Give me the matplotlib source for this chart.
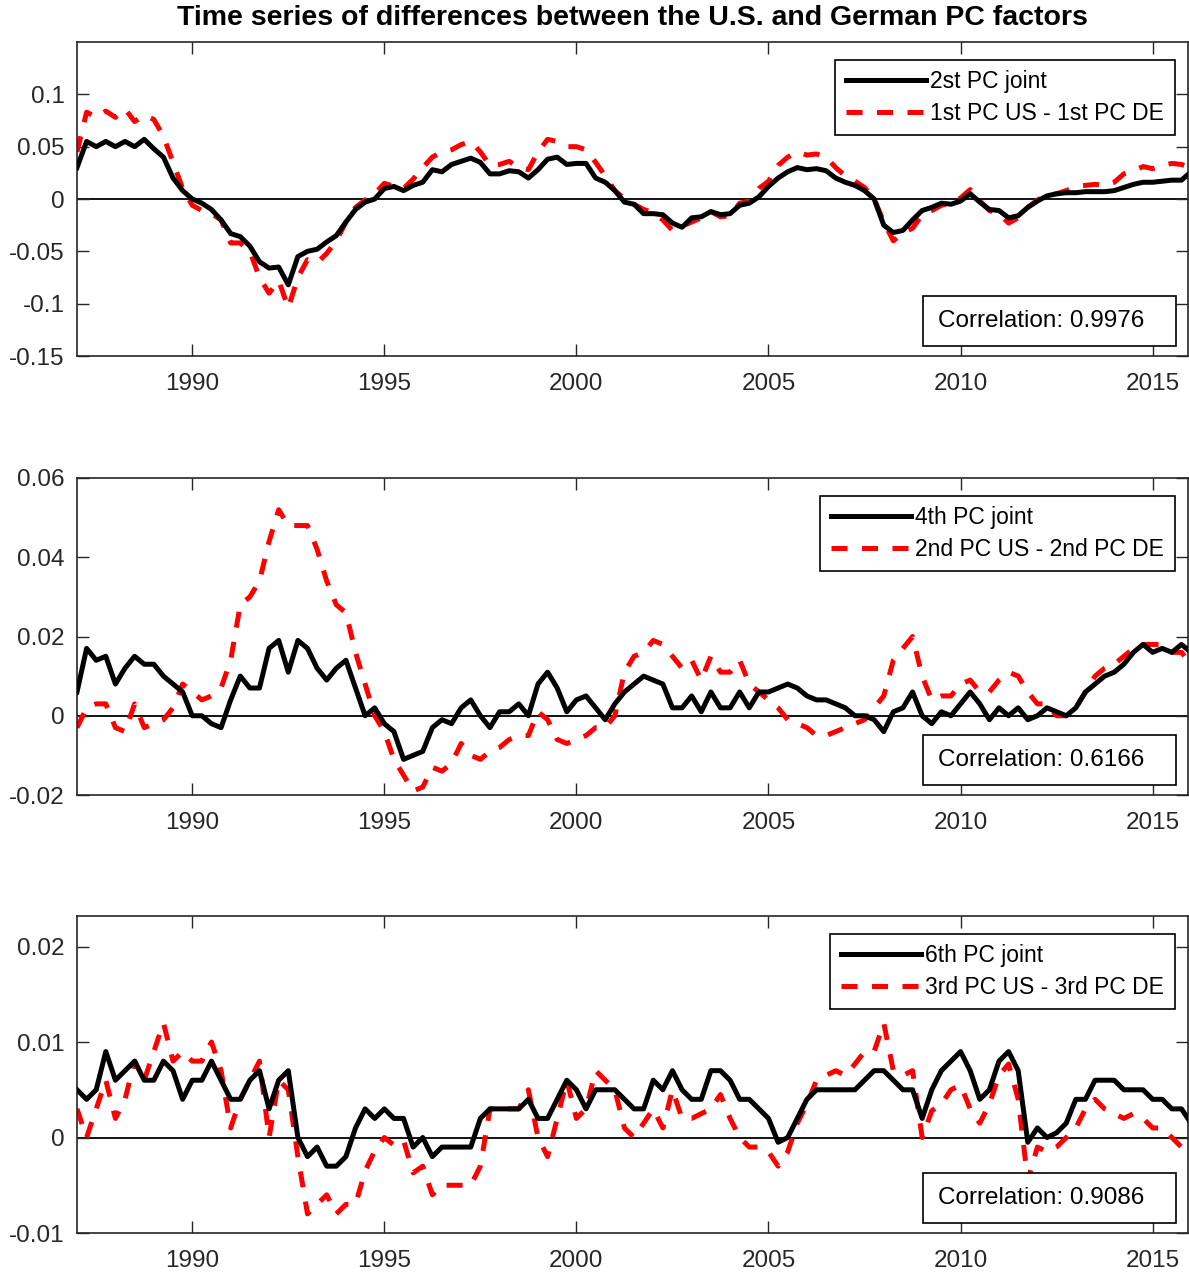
import numpy as np
import matplotlib
matplotlib.use("Agg")
import matplotlib.pyplot as plt
from matplotlib.patches import Rectangle
from matplotlib.ticker import FuncFormatter

plt.rcParams['font.family'] = ['Liberation Sans', 'DejaVu Sans']

# quarterly observations, 1987Q1 ... 2016Q1
start_year = 1987.0
step = 0.25

# panel 1: 2nd joint PC vs 1st PC US - 1st PC DE
joint2 = [
    0.030, 0.055, 0.050, 0.055,     # 1987
    0.050, 0.055, 0.050, 0.057,     # 1988
    0.048, 0.040, 0.020, 0.008,     # 1989
    0.000, -0.004, -0.010, -0.020,  # 1990
    -0.033, -0.036, -0.045, -0.060,  # 1991
    -0.066, -0.065, -0.082, -0.055,  # 1992
    -0.050, -0.048, -0.041, -0.035,  # 1993
    -0.022, -0.010, -0.003, 0.000,  # 1994
    0.010, 0.012, 0.008, 0.013,     # 1995
    0.016, 0.028, 0.026, 0.033,     # 1996
    0.036, 0.039, 0.035, 0.024,     # 1997
    0.024, 0.027, 0.026, 0.020,     # 1998
    0.028, 0.038, 0.040, 0.033,     # 1999
    0.034, 0.034, 0.020, 0.016,     # 2000
    0.008, -0.003, -0.005, -0.014,  # 2001
    -0.014, -0.015, -0.023, -0.027,  # 2002
    -0.018, -0.017, -0.012, -0.015,  # 2003
    -0.014, -0.006, -0.004, 0.002,  # 2004
    0.012, 0.020, 0.026, 0.030,     # 2005
    0.028, 0.029, 0.027, 0.020,     # 2006
    0.016, 0.013, 0.008, 0.000,     # 2007
    -0.025, -0.032, -0.030, -0.020,  # 2008
    -0.011, -0.008, -0.004, -0.005,  # 2009
    -0.002, 0.005, -0.003, -0.010,  # 2010
    -0.011, -0.018, -0.016, -0.008,  # 2011
    -0.002, 0.003, 0.005, 0.006,    # 2012
    0.006, 0.007, 0.007, 0.007,     # 2013
    0.008, 0.011, 0.014, 0.016,     # 2014
    0.016, 0.017, 0.018, 0.018,     # 2015
    0.026,                          # 2016
]
us_de1 = [
    0.045, 0.083, 0.078, 0.084,
    0.078, 0.086, 0.074, 0.080,
    0.076, 0.060, 0.035, 0.010,
    -0.006, -0.011, -0.014, -0.020,
    -0.042, -0.042, -0.050, -0.075,
    -0.090, -0.078, -0.104, -0.075,
    -0.058, -0.061, -0.052, -0.040,
    -0.022, -0.008, -0.001, 0.005,
    0.015, 0.012, 0.010, 0.019,
    0.030, 0.040, 0.045, 0.047,
    0.052, 0.055, 0.045, 0.032,
    0.033, 0.036, 0.030, 0.028,
    0.045, 0.057, 0.055, 0.050,
    0.050, 0.047, 0.035, 0.022,
    0.008, 0.000, -0.005, -0.010,
    -0.013, -0.020, -0.030, -0.026,
    -0.022, -0.018, -0.012, -0.017,
    -0.016, -0.004, -0.002, 0.010,
    0.017, 0.032, 0.040, 0.045,
    0.042, 0.043, 0.040, 0.030,
    0.022, 0.017, 0.011, 0.000,
    -0.022, -0.040, -0.032, -0.028,
    -0.015, -0.011, -0.006, -0.004,
    0.001, 0.009, -0.002, -0.011,
    -0.014, -0.023, -0.018, -0.008,
    -0.001, 0.004, 0.005, 0.008,
    0.012, 0.013, 0.014, 0.013,
    0.016, 0.024, 0.027, 0.031,
    0.029, 0.032, 0.034, 0.033,
    0.030,
]

# panel 2: 4th joint PC vs 2nd PC US - 2nd PC DE
joint4 = [
    0.006, 0.017, 0.014, 0.015,
    0.008, 0.012, 0.015, 0.013,
    0.013, 0.010, 0.008, 0.006,
    0.000, 0.000, -0.002, -0.003,
    0.004, 0.010, 0.007, 0.007,
    0.017, 0.019, 0.011, 0.019,
    0.017, 0.012, 0.009, 0.012,
    0.014, 0.007, 0.000, 0.002,
    -0.002, -0.004, -0.011, -0.010,
    -0.009, -0.003, -0.001, -0.002,
    0.002, 0.004, 0.000, -0.003,
    0.001, 0.001, 0.003, 0.000,
    0.008, 0.011, 0.007, 0.001,
    0.004, 0.005, 0.002, -0.001,
    0.003, 0.006, 0.008, 0.010,
    0.009, 0.008, 0.002, 0.002,
    0.005, 0.001, 0.006, 0.002,
    0.002, 0.006, 0.002, 0.006,
    0.006, 0.007, 0.008, 0.007,
    0.005, 0.004, 0.004, 0.003,
    0.002, 0.000, 0.000, -0.001,
    -0.004, 0.001, 0.002, 0.006,
    0.000, -0.002, 0.001, 0.000,
    0.003, 0.006, 0.003, -0.001,
    0.002, 0.000, 0.002, -0.001,
    0.000, 0.002, 0.001, 0.000,
    0.002, 0.006, 0.008, 0.010,
    0.011, 0.013, 0.016, 0.018,
    0.016, 0.017, 0.016, 0.018,
    0.016,
]
us_de2 = [
    -0.003, 0.002, 0.003, 0.003,
    -0.003, -0.004, 0.003, -0.003,
    -0.002, -0.001, 0.002, 0.008,
    0.006, 0.004, 0.005, 0.007,
    0.014, 0.028, 0.030, 0.034,
    0.044, 0.052, 0.048, 0.048,
    0.048, 0.042, 0.034, 0.028,
    0.026, 0.016, 0.008, 0.000,
    -0.004, -0.011, -0.015, -0.019,
    -0.018, -0.013, -0.014, -0.012,
    -0.007, -0.010, -0.011, -0.009,
    -0.008, -0.006, -0.005, -0.005,
    0.001, -0.001, -0.006, -0.007,
    -0.006, -0.005, -0.003, -0.003,
    0.000, 0.011, 0.015, 0.016,
    0.019, 0.018, 0.015, 0.012,
    0.014, 0.009, 0.015, 0.011,
    0.011, 0.014, 0.008, 0.006,
    0.004, 0.002, -0.001, -0.002,
    -0.003, -0.005, -0.005, -0.004,
    -0.003, -0.002, -0.001, 0.002,
    0.005, 0.014, 0.017, 0.020,
    0.010, 0.004, 0.005, 0.005,
    0.008, 0.009, 0.006, 0.006,
    0.009, 0.011, 0.010, 0.006,
    0.003, 0.003, 0.000, 0.000,
    0.002, 0.006, 0.010, 0.012,
    0.013, 0.015, 0.017, 0.018,
    0.018, 0.018, 0.016, 0.016,
    0.013,
]

# panel 3: 6th joint PC vs 3rd PC US - 3rd PC DE
joint6 = [
    0.005, 0.004, 0.005, 0.009,
    0.006, 0.007, 0.008, 0.006,
    0.006, 0.008, 0.007, 0.004,
    0.006, 0.006, 0.008, 0.006,
    0.004, 0.004, 0.006, 0.007,
    0.003, 0.006, 0.007, 0.000,
    -0.002, -0.001, -0.003, -0.003,
    -0.002, 0.001, 0.003, 0.002,
    0.003, 0.002, 0.002, -0.001,
    0.000, -0.002, -0.001, -0.001,
    -0.001, -0.001, 0.002, 0.003,
    0.003, 0.003, 0.003, 0.004,
    0.002, 0.002, 0.004, 0.006,
    0.005, 0.003, 0.005, 0.005,
    0.005, 0.004, 0.003, 0.003,
    0.006, 0.005, 0.007, 0.005,
    0.004, 0.004, 0.007, 0.007,
    0.006, 0.004, 0.004, 0.003,
    0.002, -0.0005, 0.000, 0.002,
    0.004, 0.005, 0.005, 0.005,
    0.005, 0.005, 0.006, 0.007,
    0.007, 0.006, 0.005, 0.005,
    0.002, 0.005, 0.007, 0.008,
    0.009, 0.007, 0.004, 0.005,
    0.008, 0.009, 0.007, -0.0005,
    0.001, 0.000, 0.0005, 0.0015,
    0.004, 0.004, 0.006, 0.006,
    0.006, 0.005, 0.005, 0.005,
    0.004, 0.004, 0.003, 0.003,
    0.0015,
]
us_de3 = [
    0.003, 0.000, 0.003, 0.006,
    0.002, 0.004, 0.008, 0.006,
    0.009, 0.012, 0.008, 0.009,
    0.008, 0.008, 0.010, 0.007,
    0.001, 0.004, 0.006, 0.008,
    0.000, 0.006, 0.005, -0.002,
    -0.008, -0.007, -0.006, -0.008,
    -0.007, -0.007, -0.0035, -0.0014,
    0.000, -0.0008, -0.0003, -0.0037,
    -0.003, -0.006, -0.005, -0.005,
    -0.005, -0.005, -0.003, 0.003,
    0.003, 0.003, 0.003, 0.005,
    0.000, -0.002, 0.002, 0.006,
    0.002, 0.003, 0.007, 0.006,
    0.005, 0.001, 0.000, 0.0015,
    0.003, 0.001, 0.005, 0.002,
    0.002, 0.0025, 0.003, 0.0045,
    0.002, 0.000, -0.001, -0.001,
    -0.0015, -0.003, -0.0015, 0.0015,
    0.0035, 0.006, 0.0065, 0.007,
    0.0065, 0.0077, 0.009, 0.009,
    0.012, 0.007, 0.0065, 0.007,
    0.000, 0.0028, 0.0035, 0.005,
    0.0055, 0.003, 0.0015, 0.0035,
    0.0065, 0.0077, 0.004, -0.0045,
    -0.001, -0.0015, -0.001, 0.000,
    0.001, 0.003, 0.004, 0.003,
    0.0025, 0.002, 0.0025, 0.002,
    0.001, 0.001, 0.000, -0.001,
    -0.0024,
]

panels = [
    (joint2, us_de1, '2st PC joint', '1st PC US - 1st PC DE', 0.9976,
     (-0.15, 0.15), [-0.15, -0.1, -0.05, 0, 0.05, 0.1]),
    (joint4, us_de2, '4th PC joint', '2nd PC US - 2nd PC DE', 0.6166,
     (-0.02, 0.06), [-0.02, 0, 0.02, 0.04, 0.06]),
    (joint6, us_de3, '6th PC joint', '3rd PC US - 3rd PC DE', 0.9086,
     (-0.01, 0.0232), [-0.01, 0, 0.01, 0.02]),
]

W, H = 1189, 1274
fig = plt.figure(figsize=(W / 100, H / 100), dpi=100)
ink = '#262626'
fs = 17.5

# axes boxes in pixels: left, top, right, bottom
boxes = [(77, 42, 1188, 356), (77, 478, 1188, 795), (77, 916, 1188, 1233)]

for (jt, diff, lab1, lab2, corr, ylim, yt), (l, t, r, b) in zip(panels, boxes):
    ax = fig.add_axes([l / W, 1 - b / H, (r - l) / W, (b - t) / H])
    x = start_year + step * np.arange(len(jt))
    ax.axhline(0, color='black', lw=1.3, zorder=1)
    ax.plot(x, jt, color='black', lw=3.6, label=lab1, zorder=3)
    ax.plot(x, diff, color='red', lw=3.6, ls=(0, (3.2, 2.9)), label=lab2, zorder=2)
    ax.set_xlim(1987.0, 2015.92)
    ax.set_ylim(*ylim)
    ax.set_xticks([1990, 1995, 2000, 2005, 2010, 2015])
    ax.set_yticks(yt)
    ax.yaxis.set_major_formatter(FuncFormatter(lambda v, p: '%g' % v))
    ax.tick_params(direction='in', length=8.5, width=1.0, colors=ink,
                   labelsize=fs, top=True, right=True)
    ax.tick_params(axis='x', pad=12.5)
    ax.tick_params(axis='y', pad=9)
    for s in ax.spines.values():
        s.set_color(ink)
        s.set_linewidth(1.2)

    leg = ax.legend(loc='upper right', bbox_to_anchor=(0.988, 0.944),
                    borderaxespad=0, fontsize=16.5, handlelength=3.5,
                    handletextpad=0.2, labelspacing=0.38, borderpad=0.45,
                    fancybox=False, framealpha=1)
    leg.get_frame().set_edgecolor('black')
    leg.get_frame().set_linewidth(1.2)

    ax.add_patch(Rectangle((0.7615, 0.031), 0.2277, 0.159, transform=ax.transAxes,
                           fill=True, facecolor='white', edgecolor='black',
                           lw=1.2, zorder=5))
    ax.text(0.868, 0.110, 'Correlation: %.4f' % corr, transform=ax.transAxes,
            ha='center', va='center', fontsize=fs, color='black', zorder=6)

# title centred over the axes column
fig.text((77 + 1188) / 2 / W, 1 - 18 / H,
         'Time series of differences between the U.S. and German PC factors',
         ha='center', va='center', fontsize=20.5, fontweight='bold', color='black')

fig.savefig('out.png', dpi=100)
